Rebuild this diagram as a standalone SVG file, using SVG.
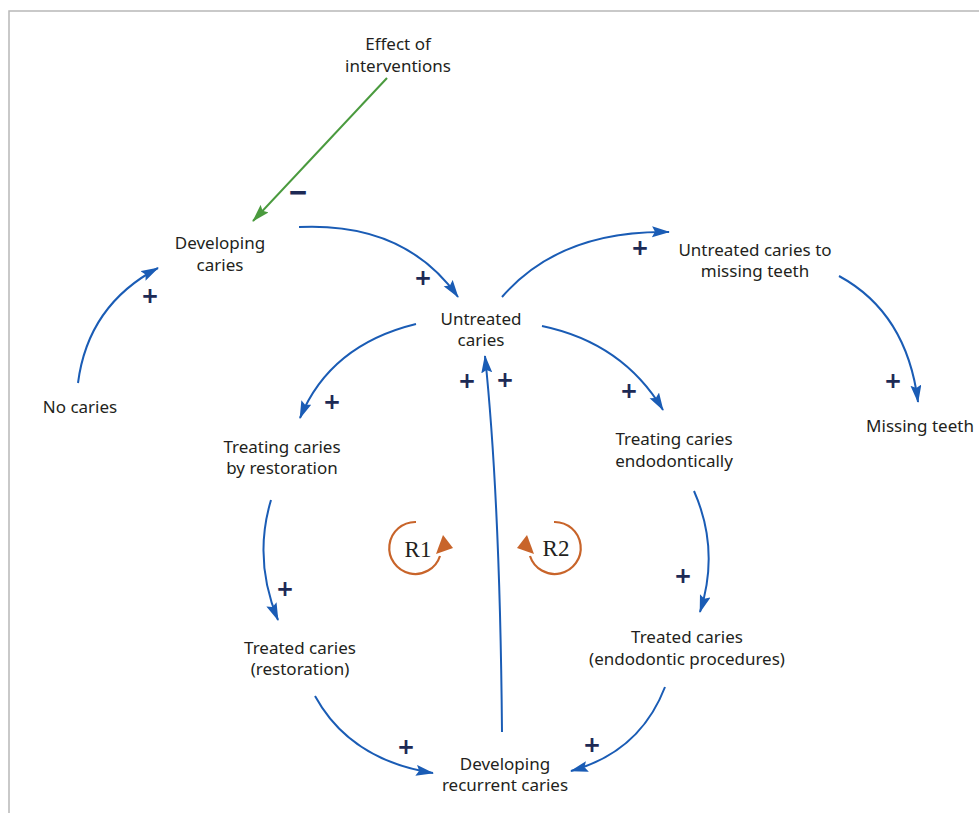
<svg xmlns="http://www.w3.org/2000/svg" width="979" height="813" viewBox="0 0 979 813">
<style>
.lbl{font-family:"Noto Sans","Liberation Sans",sans-serif;font-size:17px;fill:#231f20;text-anchor:middle}
.pol{font-family:"Noto Sans","Liberation Sans",sans-serif;font-size:28px;font-weight:600;fill:#1d2a55;text-anchor:middle}
.neg{font-family:"Noto Sans","Liberation Sans",sans-serif;font-size:32px;font-weight:bold;fill:#1d2a55;text-anchor:middle}
.lnk{fill:none;stroke:#1a5cb5;stroke-width:2;marker-end:url(#ab)}
.loop{fill:none;stroke:#c8642a;stroke-width:2.2}
.rl{font-family:"Liberation Serif","DejaVu Serif",serif;font-size:23px;fill:#231f20;text-anchor:middle}
</style>
<defs>
<marker id="ab" markerUnits="userSpaceOnUse" markerWidth="20" markerHeight="12" refX="17" refY="5.5" orient="auto">
<path d="M0,0 L18,5.5 L0,11 L3,5.5 z" fill="#1a5cb5"/>
</marker>
<marker id="ag" markerUnits="userSpaceOnUse" markerWidth="20" markerHeight="12" refX="17" refY="5.5" orient="auto">
<path d="M0,0 L18,5.5 L0,11 L3,5.5 z" fill="#4a9a3e"/>
</marker>
</defs>
<rect width="979" height="813" fill="#fff"/>
<path d="M9,813 V11 H979" fill="none" stroke="#b8b8b8" stroke-width="1.5"/>

<g id="connectors">
<line x1="387" y1="78" x2="253" y2="221" stroke="#4a9a3e" stroke-width="2" marker-end="url(#ag)"/>
<path class="lnk" d="M299,227 Q405,222 458,297"/>
<path class="lnk" d="M78,383 Q88,305 158,268"/>
<path class="lnk" d="M416,324 Q330,345 300,418"/>
<path class="lnk" d="M502,297 Q560,230 669,232"/>
<path class="lnk" d="M542,326 Q623,343 663,410"/>
<path class="lnk" d="M839,276 Q907,313 918,402"/>
<path class="lnk" d="M271,500 Q253,560 278,620"/>
<path class="lnk" d="M694,491 Q720,550 700,612"/>
<path class="lnk" d="M315,696 Q350,760 433,773"/>
<path class="lnk" d="M665,687 Q640,752 571,771"/>
<path class="lnk" d="M502,732 Q500,500 485,356"/>
</g>

<g id="polarities">
<text class="neg" x="298" y="204">−</text>
<text class="pol" x="150" y="306">+</text>
<text class="pol" x="423" y="288">+</text>
<text class="pol" x="640" y="258">+</text>
<text class="pol" x="332" y="412">+</text>
<text class="pol" x="467" y="391">+</text>
<text class="pol" x="505" y="390">+</text>
<text class="pol" x="629" y="401">+</text>
<text class="pol" x="893" y="391">+</text>
<text class="pol" x="285" y="599">+</text>
<text class="pol" x="683" y="586">+</text>
<text class="pol" x="406" y="757">+</text>
<text class="pol" x="592" y="755">+</text>
</g>

<g id="loop-R1">
<path class="loop" d="M416,522 A26,26 0 1 0 440,556"/>
<path d="M443,535 L453,548 L436,554 z" fill="#c8642a"/>
<text class="rl" x="418" y="557">R1</text>
</g>
<g id="loop-R2">
<path class="loop" d="M554,522 A26,26 0 1 1 530,556"/>
<path d="M527,535 L517,548 L534,554 z" fill="#c8642a"/>
<text class="rl" x="556" y="556">R2</text>
</g>

<g id="effect-of-interventions"><text class="lbl" x="398" y="50">Effect of</text><text class="lbl" x="398" y="72">interventions</text></g>
<g id="developing-caries"><text class="lbl" x="220" y="249">Developing</text><text class="lbl" x="220" y="271">caries</text></g>
<g id="no-caries"><text class="lbl" x="80" y="413">No caries</text></g>
<g id="untreated-caries"><text class="lbl" x="481" y="325">Untreated</text><text class="lbl" x="481" y="346">caries</text></g>
<g id="untreated-to-missing"><text class="lbl" x="755" y="256">Untreated caries to</text><text class="lbl" x="755" y="277">missing teeth</text></g>
<g id="missing-teeth"><text class="lbl" x="920" y="432">Missing teeth</text></g>
<g id="treating-restoration"><text class="lbl" x="282" y="453">Treating caries</text><text class="lbl" x="282" y="474">by restoration</text></g>
<g id="treating-endo"><text class="lbl" x="674" y="445">Treating caries</text><text class="lbl" x="674" y="467">endodontically</text></g>
<g id="treated-restoration"><text class="lbl" x="300" y="654">Treated caries</text><text class="lbl" x="300" y="675">(restoration)</text></g>
<g id="treated-endo"><text class="lbl" x="687" y="643">Treated caries</text><text class="lbl" x="687" y="665">(endodontic procedures)</text></g>
<g id="recurrent-caries"><text class="lbl" x="505" y="770">Developing</text><text class="lbl" x="505" y="791">recurrent caries</text></g>
</svg>
